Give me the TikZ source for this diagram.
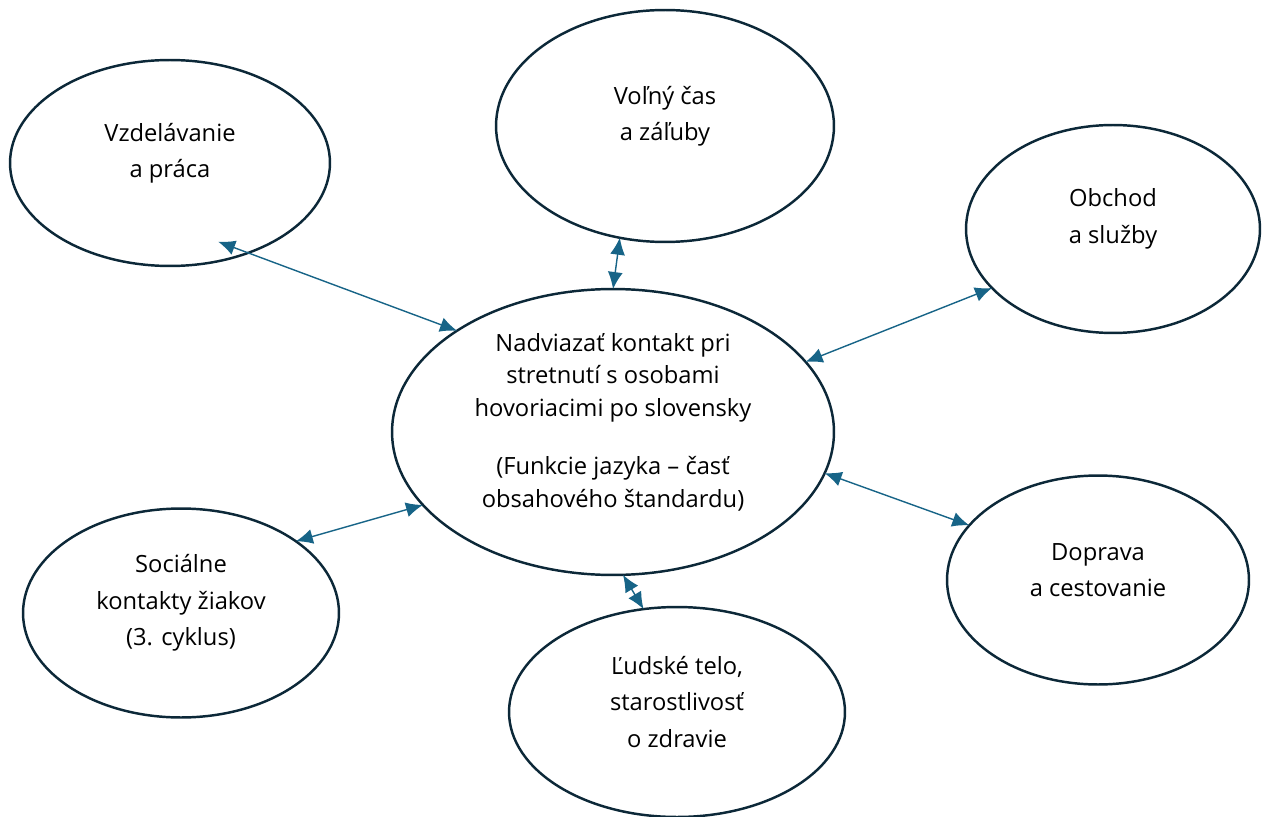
\documentclass[tikz,border=0pt]{standalone}
\usepackage{fontspec}
\setmainfont{Open Sans}
\usetikzlibrary{shapes.geometric,arrows.meta}
\definecolor{ringline}{HTML}{0C2838}
\definecolor{linkblue}{HTML}{176487}

\begin{document}
\begin{tikzpicture}[x=0.02cm,y=-0.02cm,
  topic/.style={ellipse, draw=ringline, line width=1.4pt, inner sep=0pt, outer sep=0pt},
  txt/.style={align=center, text=black, yshift=2mm, font=\fontsize{13.5}{20.7}\selectfont},
  link/.style={linkblue, line width=0.8pt, {Latex[length=3.4mm,width=3mm]}-{Latex[length=3.4mm,width=3mm]}}]
 \useasboundingbox (0,0) rectangle (1263,817);
 % ellipses
 \node[topic, minimum width=8.84cm, minimum height=5.72cm] (main) at (613,432) {};
 \node[topic, minimum width=6.4cm, minimum height=4.12cm] (vz) at (170,163) {};
 \node[topic, minimum width=6.76cm, minimum height=4.64cm] (vol) at (665,126) {};
 \node[topic, minimum width=5.88cm, minimum height=4.16cm] (obch) at (1113,229) {};
 \node[topic, minimum width=6.04cm, minimum height=4.18cm] (dop) at (1098,580) {};
 \node[topic, minimum width=6.72cm, minimum height=4.2cm] (lud) at (677,712) {};
 \node[topic, minimum width=6.32cm, minimum height=4.18cm] (soc) at (181,613) {};
 % texts
 \node[txt, yshift=0pt, font=\fontsize{13.5}{18.7}\selectfont] at (main)
  {Nadviazať kontakt pri\\stretnutí s osobami\\hovoriacimi po slovensky\\[14pt](Funkcie jazyka – časť\\obsahového štandardu)};
 \node[txt] at (vz) {Vzdelávanie\\a práca};
 \node[txt] at (vol) {Voľný čas\\a záľuby};
 \node[txt] at (obch) {Obchod\\a služby};
 \node[txt] at (dop) {Doprava\\a cestovanie};
 \node[txt] at (lud) {Ľudské telo,\\starostlivosť\\o zdravie};
 \node[txt] at (soc) {Sociálne\\kontakty žiakov\\(3. cyklus)};
 % links
 \draw[link, shorten <=-6.4mm] (vz.-49) -- (main.147);
 \draw[link] (vol.-112) -- (main.90);
 \draw[link] (obch.206) -- (main.20);
 \draw[link] (dop.157) -- (main.-11);
 \draw[link] (lud.108) -- (main.-86);
 \draw[link] (soc.32) -- (main.201);
\end{tikzpicture}
\end{document}
